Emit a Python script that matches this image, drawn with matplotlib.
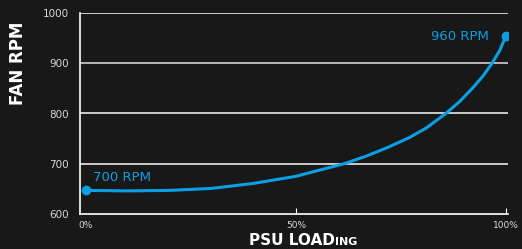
import matplotlib.pyplot as plt
import numpy as np

load = [0, 10, 20, 30, 40, 50, 55, 61.5, 67, 72, 77, 81, 85.7, 89, 92, 94.5, 96.7, 98.5, 100]
rpm = [647, 646, 647, 651, 661, 675, 686, 700, 716, 733, 752, 771, 800, 824, 850, 874, 900, 925, 954]
xticks = [0, 50, 100]
xlabels = ['0%', '50%', '100%']
yticks = [600, 700, 800, 900, 1000]

bg = '#181818'
blue = '#0a9fe3'

fig = plt.figure(figsize=(5.22, 2.49), dpi=100, facecolor=bg)
ax = fig.add_axes([80/522, 35/249, 428/522, 201/249], facecolor=bg)

ax.plot(load, rpm, color=blue, lw=2.2, solid_capstyle='round', solid_joinstyle='round')
ax.plot([load[0], load[-1]], [rpm[0], rpm[-1]], 'o', color=blue, ms=6)

ax.set_xlim(-1.4, 100.5)
ax.set_ylim(600, 1000)
for y in yticks[1:]:
    ax.axhline(y, color='white', lw=1.2, alpha=0.9 if y != 900 else 0.8, zorder=0)

for s in ['top', 'right']:
    ax.spines[s].set_visible(False)
for s in ['left', 'bottom']:
    ax.spines[s].set_color('white')
    ax.spines[s].set_linewidth(1.2)

ax.set_xticks(xticks, xlabels)
ax.set_yticks(yticks)
ax.tick_params(axis='x', direction='in', length=4, color='white', colors='#d8d8d8',
               labelsize=6.5, pad=5)
ax.tick_params(axis='y', length=0, colors='#d8d8d8', labelsize=7.5, pad=8)
ax.get_xticklines()[0].set_visible(False)
ax.get_xticklines()[1].set_visible(False)

ax.text(1.6, 665, '700 RPM', color=blue, fontsize=9.5, va='baseline', ha='left')
ax.text(96, 953, '960 RPM', color=blue, fontsize=9.5, va='center', ha='right')

fig.text(18/522, 0.745, 'FAN RPM', color='white', fontsize=12, fontweight='bold',
         rotation=90, ha='center', va='center')
fig.text(335/522, 4/249, 'PSU LOAD', color='white', fontsize=11, fontweight='bold',
         ha='right', va='baseline')
fig.text(335/522, 4/249, 'ING', color='white', fontsize=8, fontweight='bold',
         ha='left', va='baseline')

fig.savefig('out.png', dpi=100, facecolor=bg)
